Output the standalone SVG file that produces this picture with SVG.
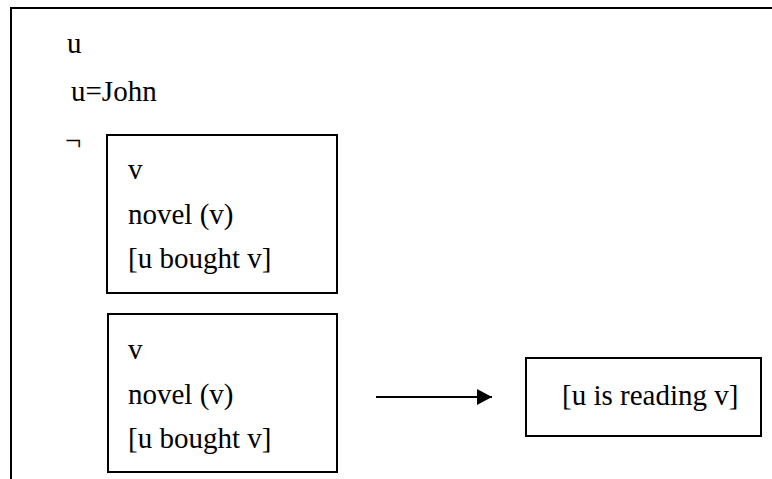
<svg xmlns="http://www.w3.org/2000/svg" width="772" height="479" viewBox="0 0 772 479">
  <style>
    .frame { fill: none; stroke: #000; stroke-width: 2; }
    .box { fill: #fff; stroke: #000; stroke-width: 2; }
    .t { font-size: 29px; fill: #000; }
    .link { stroke: #000; stroke-width: 2; fill: none; }
  </style>
  <defs>
    <marker id="arrowhead" markerUnits="userSpaceOnUse" markerWidth="16" markerHeight="16" refX="15" refY="8" orient="auto">
      <path d="M0,0 L15,8 L0,16 Z" fill="#000"/>
    </marker>
  </defs>

  <rect width="772" height="479" fill="#fff"/>

  <g font-family="'Liberation Serif', 'Times New Roman', 'DejaVu Serif', serif">
    <!-- outer discourse box (open to the right and bottom) -->
    <g id="outer">
      <path class="frame" d="M11,480 L11,8 L773,8"/>
      <text class="t" x="67" y="53">u</text>
      <text class="t" x="71" y="101">u=John</text>
      <text class="t" x="65" y="150">¬</text>
    </g>

    <g id="negated-box">
      <rect class="box" x="107" y="135" width="230" height="158"/>
      <text class="t" x="128" y="179">v</text>
      <text class="t" x="128" y="224">novel (v)</text>
      <text class="t" x="128" y="268">[u bought v]</text>
    </g>

    <g id="antecedent-box">
      <rect class="box" x="108" y="314" width="229" height="158"/>
      <text class="t" x="128" y="359">v</text>
      <text class="t" x="128" y="404">novel (v)</text>
      <text class="t" x="128" y="448">[u bought v]</text>
    </g>

    <g id="consequent-box">
      <rect class="box" x="526" y="358" width="235" height="78"/>
      <text class="t" x="562" y="405">[u is reading v]</text>
    </g>
  </g>

  <g id="connectors">
    <line class="link" x1="376" y1="397" x2="492" y2="397" marker-end="url(#arrowhead)"/>
  </g>
</svg>
